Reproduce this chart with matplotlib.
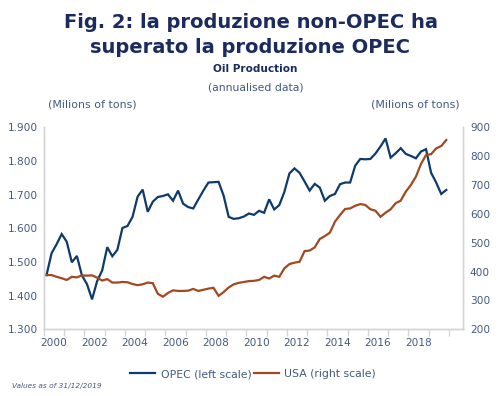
import matplotlib
matplotlib.use("Agg")
import matplotlib.pyplot as plt
import numpy as np
from matplotlib.lines import Line2D

# quarterly data, 2000Q1 .. 2019Q4
opec = [1461, 1526, 1553, 1583, 1560, 1499, 1518, 1460, 1434, 1389,
        1443, 1475, 1544, 1517, 1536, 1601, 1607, 1634, 1694, 1715,
        1649, 1679, 1693, 1696, 1701, 1682, 1712, 1673, 1663, 1659,
        1686, 1712, 1736, 1737, 1738, 1697, 1634, 1628, 1630, 1635,
        1644, 1640, 1652, 1646, 1686, 1656, 1669, 1708, 1763, 1778,
        1765, 1739, 1712, 1732, 1721, 1682, 1696, 1702, 1731, 1736,
        1736, 1786, 1806, 1805, 1806, 1822, 1843, 1867, 1810, 1823,
        1838, 1821, 1815, 1808, 1828, 1835, 1765, 1736, 1702, 1714]
usa = [388, 388, 382, 377, 371, 382, 380, 387, 386, 387,
       379, 369, 374, 362, 362, 364, 363, 357, 353, 356,
       362, 360, 323, 313, 326, 335, 333, 333, 334, 340,
       333, 337, 341, 344, 316, 329, 345, 356, 361, 364,
       367, 368, 371, 382, 376, 386, 382, 411, 426, 431,
       434, 471, 473, 484, 513, 523, 535, 573, 596, 617,
       619, 628, 634, 631, 616, 611, 590, 604, 616, 637,
       646, 677, 700, 729, 773, 804, 807, 827, 835, 856]
year_labels = ["2000", "2002", "2004", "2006", "2008",
               "2010", "2012", "2014", "2016", "2018"]
left_ticks = [1300, 1400, 1500, 1600, 1700, 1800, 1900]
right_ticks = [200, 300, 400, 500, 600, 700, 800, 900]

NAVY = "#1b2b5e"
TEXT = "#44597e"
OPEC_C = "#0e3a6c"
USA_C = "#a2491f"
GRAY = "#d4d4d4"

plt.rcParams["font.family"] = ["DejaVu Sans"]

fig = plt.figure(figsize=(5.01, 3.96), dpi=100)
ax = fig.add_axes([0.0878, 0.1684, 0.8363, 0.5101])
ax2 = ax.twinx()

x = np.arange(len(opec)) + 0.5
ax.plot(x, opec, color=OPEC_C, lw=1.6, solid_joinstyle="miter")
ax2.plot(x, usa, color=USA_C, lw=1.6, solid_joinstyle="miter")

ax.set_xlim(0, 82.8)
ax.set_ylim(1300, 1900)
ax2.set_ylim(200, 900)

ax.set_yticks(left_ticks)
ax.set_yticklabels([f"{v / 1000:.3f}" for v in left_ticks])
ax2.set_yticks(right_ticks)
ax2.set_yticklabels([str(v) for v in right_ticks])

ax.set_xticks(np.arange(0, 81, 4))
ax.set_xticklabels([])
ax.set_xticks(np.arange(2, 80, 8), minor=True)
ax.set_xticklabels(year_labels, minor=True)

for a in (ax, ax2):
    for s in a.spines.values():
        s.set_color(GRAY)
        s.set_linewidth(1.0)
    a.spines["top"].set_visible(False)
ax.tick_params(axis="x", which="major", length=5, color=GRAY, width=1.0)
ax.tick_params(axis="x", which="minor", length=0, pad=6, labelsize=7.6, labelcolor=TEXT)
ax.tick_params(axis="y", length=0, pad=4, labelsize=7.6, labelcolor=TEXT)
ax2.tick_params(axis="y", length=0, pad=5, labelsize=7.6, labelcolor=TEXT)

fig.text(0.5, 0.944, "Fig. 2: la produzione non-OPEC ha", ha="center", va="center",
         fontsize=14, fontweight="bold", color=NAVY)
fig.text(0.5, 0.881, "superato la produzione OPEC", ha="center", va="center",
         fontsize=14, fontweight="bold", color=NAVY)
fig.text(0.51, 0.826, "Oil Production", ha="center", va="center",
         fontsize=7.6, fontweight="bold", color=NAVY)
fig.text(0.51, 0.780, "(annualised data)", ha="center", va="center",
         fontsize=7.8, color=TEXT)
fig.text(0.096, 0.737, "(Milions of tons)", ha="left", va="center",
         fontsize=7.9, color=TEXT)
fig.text(0.918, 0.737, "(Milions of tons)", ha="right", va="center",
         fontsize=7.9, color=TEXT)

handles = [Line2D([], [], color=OPEC_C, lw=1.6), Line2D([], [], color=USA_C, lw=1.6)]
fig.legend(handles, ["OPEC (left scale)", "USA (right scale)"], loc="center",
           bbox_to_anchor=(0.505, 0.055), ncol=2, frameon=False, fontsize=7.8,
           labelcolor=TEXT, handlelength=2.3, handletextpad=0.5, columnspacing=0.2)
fig.text(0.024, 0.024, "Values as of 31/12/2019", ha="left", va="center",
         fontsize=5.3, style="italic", color=TEXT)

fig.savefig("out.png", dpi=100)
